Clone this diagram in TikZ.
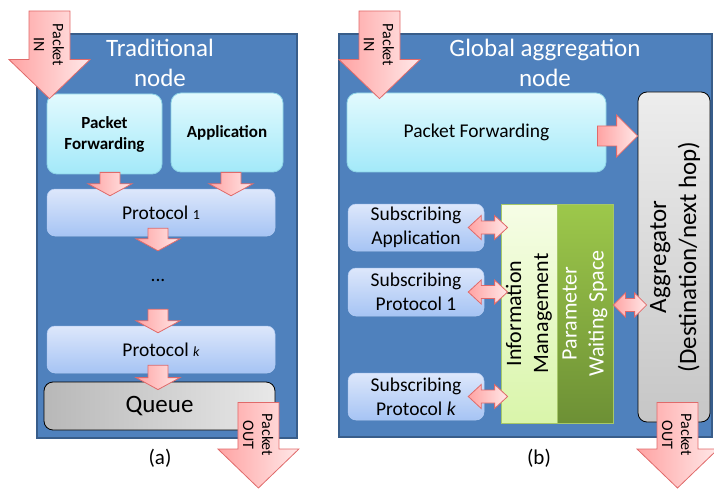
\documentclass[tikz,border=0pt]{standalone}
\usepackage{fontspec}
\setmainfont{Carlito}
\usetikzlibrary{calc}

\definecolor{panelfill}{HTML}{4F81BD}
\definecolor{panelline}{HTML}{385D8A}
\definecolor{cyantop}{HTML}{E2FAFE}
\definecolor{cyanbot}{HTML}{A3E9F9}
\definecolor{cyanline}{HTML}{8DD3E6}
\definecolor{bluetop}{HTML}{DDE7FB}
\definecolor{bluebot}{HTML}{A6C4F4}
\definecolor{blueline}{HTML}{B4CCF3}
\definecolor{queueleft}{HTML}{B8B8B8}
\definecolor{queueright}{HTML}{E8E8E8}
\definecolor{aggtop}{HTML}{EDEDED}
\definecolor{aggbot}{HTML}{C6C6C6}
\definecolor{imtop}{HTML}{F6FDE6}
\definecolor{imbot}{HTML}{D9F5AA}
\definecolor{pwstop}{HTML}{9DC84B}
\definecolor{pwsbot}{HTML}{6D9035}
\definecolor{greenline}{HTML}{A6C868}
\definecolor{arrowdark}{HTML}{FFA3A3}
\definecolor{arrowlight}{HTML}{FFE8E8}
\definecolor{arrowline}{HTML}{E06A6A}

\tikzset{
  panel/.style={draw=panelline, line width=1.8pt, fill=panelfill, inner sep=0pt},
  title/.style={text=white, align=center, inner sep=0pt, font=\fontsize{25}{30}\selectfont},
  fwdbox/.style={draw=cyanline, line width=0.8pt, rounded corners=10pt, top color=cyantop,
    bottom color=cyanbot, align=center, inner sep=0pt},
  protbox/.style={draw=blueline, line width=0.5pt, rounded corners=8pt, top color=bluetop,
    bottom color=bluebot, align=center, inner sep=0pt, font=\fontsize{19.5}{24}\selectfont},
  greybox/.style={draw=black, line width=0.8pt, rounded corners=9pt, align=center, inner sep=0pt,
    font=\fontsize{25}{30}\selectfont},
  infobox/.style={draw=greenline, line width=0.8pt, align=center, inner sep=0pt,
    font=\fontsize{22}{27}\selectfont},
  pkt/.style={rotate=-90, align=center, inner sep=0pt, font=\fontsize{16}{19}\selectfont},
  caption/.style={inner sep=0pt, font=\fontsize{21}{25}\selectfont},
  arrowbody/.style={draw=arrowline, line width=0.8pt, left color=arrowdark, right color=arrowlight},
  % #1 half shaft, #2 half head, #3 head length
  fatdown/.style n args={3}{arrowbody, to path={let \p1=(\tikztostart), \p2=(\tikztotarget) in
    (\x1-#1,\y1) -- (\x1+#1,\y1) -- (\x1+#1,\y2+#3) -- (\x1+#2,\y2+#3) -- (\x1,\y2)
    -- (\x1-#2,\y2+#3) -- (\x1-#1,\y2+#3) -- cycle}},
  fatright/.style n args={3}{arrowbody, to path={let \p1=(\tikztostart), \p2=(\tikztotarget) in
    (\x1,\y1+#1) -- (\x2-#3,\y1+#1) -- (\x2-#3,\y1+#2) -- (\x2,\y1) -- (\x2-#3,\y1-#2)
    -- (\x2-#3,\y1-#1) -- (\x1,\y1-#1) -- cycle}},
  fatboth/.style n args={3}{arrowbody, to path={let \p1=(\tikztostart), \p2=(\tikztotarget) in
    (\x1,\y1) -- (\x1+#3,\y1+#2) -- (\x1+#3,\y1+#1) -- (\x2-#3,\y1+#1) -- (\x2-#3,\y1+#2)
    -- (\x2,\y1) -- (\x2-#3,\y1-#2) -- (\x2-#3,\y1-#1) -- (\x1+#3,\y1-#1) -- (\x1+#3,\y1-#2) -- cycle}},
  smalldown/.style={fatdown={10pt}{22pt}{12pt}},
  bigdown/.style={fatdown={20.5pt}{40.5pt}{39pt}},
}

\begin{document}
\begin{tikzpicture}[x=1pt, y=-1pt]
  \useasboundingbox (0,0) rectangle (714,489);

  % (a) traditional node
  \node[panel, minimum width=260, minimum height=404] (pa) at (167,236) {};
  \node[title] (ta) at (160,63) {Traditional\\node};
  \node[fwdbox, minimum width=115, minimum height=80, font=\bfseries\fontsize{17}{21}\selectfont]
    (pf) at (104.5,134) {Packet\\Forwarding};
  \node[fwdbox, minimum width=112, minimum height=79, font=\bfseries\fontsize{17}{21}\selectfont]
    (app) at (227,132.5) {Application};
  \node[protbox, minimum width=228, minimum height=47] (p1) at (161,212.5)
    {Protocol {\fontsize{14}{16}\selectfont 1}};
  \node[inner sep=0pt, minimum height=58, font=\fontsize{19.5}{24}\selectfont] (dots) at (158,280) {...};
  \node[protbox, minimum width=228, minimum height=47] (pk) at (161,349.5)
    {Protocol {\fontsize{14}{16}\selectfont\itshape k}};
  \node[greybox, left color=queueleft, right color=queueright, minimum width=231, minimum height=48]
    (queue) at (159.5,406) {Queue};

  \draw[smalldown] ([xshift=5.5pt,yshift=2pt]pf.south) to ([yshift=-7pt]p1.north);
  \draw[smalldown] ([xshift=4pt]app.south) to ([yshift=-7pt]p1.north);
  \draw[smalldown] ([xshift=-3pt,yshift=8pt]p1.south) to (dots.north);
  \draw[smalldown] (dots.south) to ([yshift=-7pt]pk.north);
  \draw[smalldown] ([xshift=-3pt,yshift=8pt]pk.south) to ([yshift=-8pt]queue.north);

  \coordinate (ina) at (49.5,11);
  \draw[bigdown] (ina) to ([xshift=2pt,yshift=-5pt]pf.north west);
  \node[pkt] (inla) at (49,45) {Packet\\IN};
  \coordinate (outa) at (258,488);
  \draw[bigdown] ([xshift=-17pt,yshift=28pt]queue.south east) to (outa);
  \node[pkt] (outla) at (258,435) {Packet\\OUT};
  \node[caption] (capa) at (160,458) {(a)};

  % (b) global aggregation node
  \node[panel, minimum width=373, minimum height=403] (pb) at (525.5,235.5) {};
  \node[title] (tb) at (545,63) {Global aggregation\\node};
  \node[fwdbox, minimum width=259, minimum height=79, font=\fontsize{19.5}{24}\selectfont]
    (pfb) at (476.5,132.5) {Packet Forwarding};
  \node[greybox, top color=aggtop, bottom color=aggbot, minimum width=72, minimum height=330]
    (agg) at (674,257) {};
  \node[rotate=90, align=center, inner sep=0pt, font=\fontsize{25}{30}\selectfont]
    (aggl) at (675,257) {Aggregator\\(Destination/next hop)};
  \node[protbox, minimum width=136, minimum height=47] (sa) at (416,227.5) {Subscribing\\Application};
  \node[protbox, minimum width=136, minimum height=48] (sp1) at (416,292) {Subscribing\\Protocol 1};
  \node[protbox, minimum width=136, minimum height=47] (spk) at (416,396.5) {Subscribing\\Protocol \textit{k}};
  \node[infobox, top color=imtop, bottom color=imbot, minimum width=56, minimum height=219]
    (im) at (529,313.5) {};
  \node[infobox, top color=pwstop, bottom color=pwsbot, minimum width=56, minimum height=219]
    (pws) at (585,313.5) {};
  \node[rotate=90, align=center, inner sep=0pt, font=\fontsize{22}{27}\selectfont]
    (iml) at (im) {Information\\Management};
  \node[rotate=90, align=center, inner sep=0pt, text=white, font=\fontsize{22}{27}\selectfont]
    (pwsl) at (pws) {Parameter\\Waiting Space};

  \draw[fatright={10pt}{21pt}{21pt}] ([xshift=-9pt,yshift=-3.5pt]pfb.east) to (agg.west);
  \draw[fatboth={6.5pt}{12pt}{13pt}] ([xshift=-16pt]sa.east) to ([xshift=7pt]im.west);
  \draw[fatboth={6.5pt}{12pt}{13pt}] ([xshift=-16pt]sp1.east) to ([xshift=7pt]im.west);
  \draw[fatboth={6.5pt}{12pt}{13pt}] ([xshift=-16pt]spk.east) to ([xshift=7pt]im.west);
  \draw[fatboth={6.5pt}{12pt}{12pt}] ([yshift=8.5pt]pws.east) to ([xshift=9pt]agg.west);

  \coordinate (inb) at (379.5,11);
  \draw[bigdown] (inb) to ([xshift=32pt,yshift=-6pt]pfb.north west);
  \node[pkt] (inlb) at (379,45) {Packet\\IN};
  \coordinate (outb) at (677.5,488);
  \draw[bigdown] ([xshift=3.5pt,yshift=20pt]agg.south) to (outb);
  \node[pkt] (outlb) at (677,435) {Packet\\OUT};
  \node[caption] (capb) at (539,458) {(b)};
\end{tikzpicture}
\end{document}
